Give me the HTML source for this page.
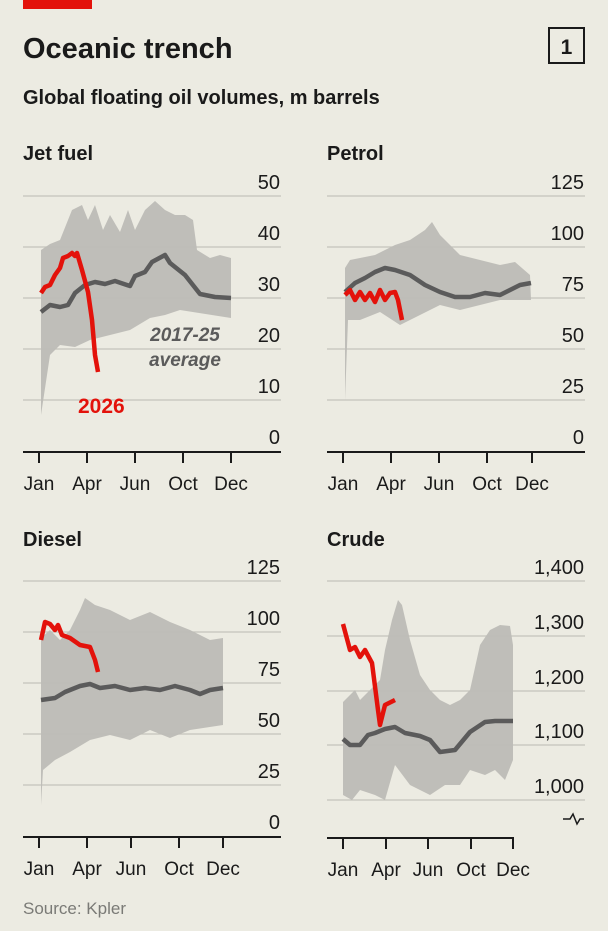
<!DOCTYPE html>
<html><head><meta charset="utf-8"><style>
body{margin:0;background:#ecebe2;}
svg{display:block;font-family:"Liberation Sans",sans-serif;}
</style></head><body>
<svg width="608" height="931" viewBox="0 0 608 931" xmlns="http://www.w3.org/2000/svg">
<rect width="608" height="931" fill="#ecebe2"/>
<rect x="23" y="0" width="69" height="9" fill="#e3120b"/>
<text x="23" y="58" font-size="29" font-weight="bold" fill="#1a1a1a">Oceanic trench</text>
<rect x="549" y="28" width="35" height="35" fill="none" stroke="#1a1a1a" stroke-width="2"/>
<text x="566.5" y="54" font-size="21" font-weight="bold" text-anchor="middle" fill="#1a1a1a">1</text>
<text x="23" y="104" font-size="20" font-weight="bold" fill="#1a1a1a">Global floating oil volumes, m barrels</text>

<g fill="#1a1a1a" font-size="20" font-weight="bold">
<text x="23" y="160">Jet fuel</text><text x="327" y="160">Petrol</text>
<text x="23" y="546">Diesel</text><text x="327" y="546">Crude</text>
</g>

<!-- gridlines -->
<g stroke="#c4c3bb" stroke-width="1.2">
<line x1="23" x2="281" y1="196" y2="196"/><line x1="23" x2="281" y1="247" y2="247"/><line x1="23" x2="281" y1="298" y2="298"/><line x1="23" x2="281" y1="349" y2="349"/><line x1="23" x2="281" y1="400" y2="400"/>
<line x1="327" x2="585" y1="196" y2="196"/><line x1="327" x2="585" y1="247" y2="247"/><line x1="327" x2="585" y1="298" y2="298"/><line x1="327" x2="585" y1="349" y2="349"/><line x1="327" x2="585" y1="400" y2="400"/>
<line x1="23" x2="281" y1="581" y2="581"/><line x1="23" x2="281" y1="632" y2="632"/><line x1="23" x2="281" y1="683" y2="683"/><line x1="23" x2="281" y1="734" y2="734"/><line x1="23" x2="281" y1="785" y2="785"/>
<line x1="327" x2="585" y1="581" y2="581"/><line x1="327" x2="585" y1="636" y2="636"/><line x1="327" x2="585" y1="691" y2="691"/><line x1="327" x2="585" y1="745" y2="745"/><line x1="327" x2="585" y1="800" y2="800"/>
</g>

<!-- bands -->
<g fill="#bdbcb6" opacity="0.95">
<path d="M41,250 L50,244 L60,240 L72,210 L82,205 L88,220 L95,205 L103,230 L110,215 L120,232 L128,210 L135,230 L145,210 L155,201 L165,210 L175,215 L185,215 L193,220 L197,250 L210,258 L220,255 L231,258 L231,318 L180,310 L165,315 L150,318 L130,330 L110,335 L90,340 L75,347 L60,345 L50,355 L41,415 Z"/>
<path d="M345,268 L350,260 L360,258 L375,255 L395,245 L410,240 L425,230 L432,222 L440,235 L460,255 L480,260 L500,265 L515,262 L530,275 L531,300 L500,300 L480,305 L460,310 L440,305 L420,315 L400,325 L380,312 L360,320 L348,320 L345,400 Z"/>
<path d="M41,638 L50,630 L60,640 L70,630 L80,610 L85,598 L95,605 L110,610 L130,620 L150,612 L170,622 L190,630 L210,640 L223,638 L223,725 L190,730 L170,738 L150,730 L130,740 L110,735 L90,740 L70,752 L55,760 L43,770 L41,805 Z"/>
<path d="M343,702 L350,695 L355,690 L360,700 L370,690 L380,680 L385,650 L392,620 L398,600 L402,605 L410,640 L420,675 L430,690 L440,700 L450,705 L460,700 L470,690 L480,645 L490,630 L500,625 L510,626 L513,645 L513,760 L505,780 L495,770 L485,775 L470,770 L460,785 L445,785 L430,795 L410,785 L395,765 L385,800 L375,795 L360,790 L352,800 L343,795 Z"/>
</g>

<!-- averages -->
<g fill="none" stroke="#5b5b5b" stroke-width="4.5" stroke-linejoin="round">
<path d="M41,312 L50,305 L60,307 L68,305 L75,293 L85,285 L95,282 L105,284 L115,281 L130,286 L135,276 L145,272 L152,262 L165,255 L170,263 L185,275 L200,294 L215,297 L231,298"/>
<path d="M345,292 L355,283 L365,278 L375,272 L385,268 L395,270 L410,275 L425,285 L440,292 L455,297 L470,297 L485,293 L500,295 L510,290 L520,285 L531,283"/>
<path d="M41,700 L55,698 L65,692 L80,686 L90,684 L100,688 L115,686 L130,690 L145,688 L160,690 L175,686 L190,690 L200,694 L210,690 L223,688"/>
<path d="M343,739 L350,745 L360,745 L368,735 L375,733 L385,729 L395,727 L405,733 L420,736 L430,740 L440,752 L455,750 L470,732 L485,722 L495,721 L510,721 L513,721"/>
</g>
<!-- 2026 -->
<g fill="none" stroke="#e3120b" stroke-width="4.5" stroke-linejoin="round">
<path d="M41,293 L45,287 L50,285 L55,275 L60,268 L63,258 L68,256 L72,253 L75,256 L77,253 L82,270 L88,292 L92,320 L95,355 L98,372"/>
<path d="M345,295 L350,290 L355,300 L360,292 L365,300 L370,293 L375,302 L380,290 L385,300 L390,293 L395,292 L398,300 L402,320"/>
<path d="M41,640 L45,622 L50,624 L55,630 L58,625 L62,635 L70,638 L80,645 L90,647 L95,660 L98,672"/>
<path d="M343,624 L350,650 L355,647 L360,657 L365,650 L372,663 L378,710 L380,725 L385,705 L395,700"/>
</g>

<text x="78" y="413" font-size="21" font-weight="bold" fill="#e3120b">2026</text>
<g font-size="19" font-weight="bold" font-style="italic" fill="#5b5b5b" text-anchor="middle">
<text x="185" y="341">2017-25</text><text x="185" y="366">average</text>
</g>

<!-- value labels -->
<g font-size="20" fill="#1a1a1a" text-anchor="end">
<text x="280" y="189">50</text><text x="280" y="240">40</text><text x="280" y="291">30</text><text x="280" y="342">20</text><text x="280" y="393">10</text><text x="280" y="444">0</text>
<text x="584" y="189">125</text><text x="584" y="240">100</text><text x="584" y="291">75</text><text x="584" y="342">50</text><text x="584" y="393">25</text><text x="584" y="444">0</text>
<text x="280" y="574">125</text><text x="280" y="625">100</text><text x="280" y="676">75</text><text x="280" y="727">50</text><text x="280" y="778">25</text><text x="280" y="829">0</text>
<text x="584" y="574">1,400</text><text x="584" y="629">1,300</text><text x="584" y="684">1,200</text><text x="584" y="738">1,100</text><text x="584" y="793">1,000</text>
</g>
<path d="M563,819 L570,819 L573,814 L577,824 L580,819 L584,819" fill="none" stroke="#1a1a1a" stroke-width="1.5"/>

<!-- axes -->
<g stroke="#1a1a1a" stroke-width="2">
<line x1="23" x2="281" y1="452" y2="452"/><line x1="327" x2="585" y1="452" y2="452"/>
<line x1="23" x2="281" y1="837" y2="837"/><line x1="327" x2="514" y1="838" y2="838"/>
<path d="M39,452v11M87,452v11M135,452v11M183,452v11M231,452v11"/>
<path d="M343,452v11M391,452v11M439,452v11M487,452v11M532,452v11"/>
<path d="M39,837v11M87,837v11M131,837v11M179,837v11M223,837v11"/>
<path d="M343,838v11M386,838v11M428,838v11M471,838v11M513,838v11"/>
</g>
<g font-size="19" fill="#1a1a1a" text-anchor="middle">
<text x="39" y="490">Jan</text><text x="87" y="490">Apr</text><text x="135" y="490">Jun</text><text x="183" y="490">Oct</text><text x="231" y="490">Dec</text>
<text x="343" y="490">Jan</text><text x="391" y="490">Apr</text><text x="439" y="490">Jun</text><text x="487" y="490">Oct</text><text x="532" y="490">Dec</text>
<text x="39" y="875">Jan</text><text x="87" y="875">Apr</text><text x="131" y="875">Jun</text><text x="179" y="875">Oct</text><text x="223" y="875">Dec</text>
<text x="343" y="876">Jan</text><text x="386" y="876">Apr</text><text x="428" y="876">Jun</text><text x="471" y="876">Oct</text><text x="513" y="876">Dec</text>
</g>
<text x="23" y="914" font-size="17" fill="#7a7a76">Source: Kpler</text>
</svg>
</body></html>
